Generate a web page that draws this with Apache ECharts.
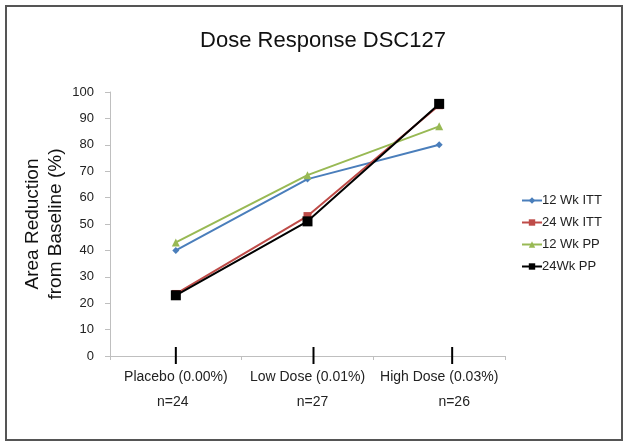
<!DOCTYPE html>
<html><head><meta charset="utf-8">
<script src="https://cdn.jsdelivr.net/npm/echarts@6/dist/echarts.min.js"></script>
<style>html,body{margin:0;padding:0;background:#fff}#c{width:629px;height:447px}</style>
</head><body><div id="c"></div>
<script>
var categories = ['Placebo (0.00%)', 'Low Dose (0.01%)', 'High Dose (0.03%)'];
var sampleSizes = ['n=24', 'n=27', 'n=26'];
var seriesNames = ['12 Wk ITT', '24 Wk ITT', '12 Wk PP', '24Wk PP'];
var wk12ITT = [40, 67, 80];
var wk24ITT = [23.5, 53, 95];
var wk12PP = [43, 68.5, 87];
var wk24PP = [23, 51, 95.5];
var yTicks = [0, 10, 20, 30, 40, 50, 60, 70, 80, 90, 100];

var FONT = "'Liberation Sans', Arial, sans-serif";
var chart = echarts.init(document.getElementById('c'));
function mk(name, data, color, symbol, size) {
  return {
    name: name, type: 'line', data: data, symbol: symbol, symbolSize: size,
    lineStyle: { color: color, width: 2 }, itemStyle: { color: color },
    emphasis: { disabled: true }, animation: false
  };
}
// horizontal nudges of the "n=" lines: [left padding, right padding]
var nShift = [[0, 6], [10, 0], [30, 0]];
var rich = {};
for (var i = 0; i < 3; i++) {
  rich['a' + i] = { fontFamily: FONT, fontSize: 14, color: '#222', lineHeight: 18 };
  rich['b' + i] = { fontFamily: FONT, fontSize: 14, color: '#222', padding: [14, nShift[i][1], 0, nShift[i][0]], lineHeight: 18 };
}
chart.setOption({
  animation: false,
  title: { text: 'Dose Response DSC127', left: 318, textAlign: 'center', top: 25, textStyle: { fontFamily: FONT, fontSize: 22, fontWeight: 'normal', color: '#111' } },
  legend: {
    orient: 'vertical', left: 516, top: 189, itemGap: 9, itemWidth: 20, itemHeight: 8,
    data: seriesNames,
    textStyle: { fontFamily: FONT, fontSize: 13, color: '#222', padding: [0, 0, 0, -5] }
  },
  grid: { left: 110, right: 124, top: 92, bottom: 91 },
  xAxis: {
    type: 'category', data: categories, boundaryGap: true,
    axisLine: { lineStyle: { color: '#BFBFBF', width: 1 } },
    axisTick: { show: true, length: 4, lineStyle: { color: '#BFBFBF' } },
    axisLabel: {
      margin: 12, interval: 0, hideOverlap: false,
      formatter: function (v, idx) { return '{a' + idx + '|' + v + '}\n{b' + idx + '|' + sampleSizes[idx] + '}'; },
      rich: rich
    }
  },
  yAxis: {
    type: 'value', min: yTicks[0], max: yTicks[yTicks.length - 1], interval: 10,
    name: 'Area Reduction\nfrom Baseline (%)', nameLocation: 'middle', nameRotate: 90, nameGap: 43,
    nameMoveOverlap: false,
    nameTextStyle: { fontFamily: FONT, fontSize: 19, color: '#111', lineHeight: 23 },
    axisLine: { show: true, lineStyle: { color: '#BFBFBF' } },
    axisTick: { show: true, length: 5, lineStyle: { color: '#BFBFBF' } },
    splitLine: { show: false },
    axisLabel: { fontFamily: FONT, fontSize: 13, color: '#222', margin: 16 }
  },
  series: [
    mk(seriesNames[0], wk12ITT, '#4A7EBB', 'diamond', 7),
    mk(seriesNames[1], wk24ITT, '#BE4B48', 'rect', 8),
    mk(seriesNames[2], wk12PP, '#98B954', 'triangle', 8),
    mk(seriesNames[3], wk24PP, '#000000', 'rect', 10)
  ]
});
// decorative black tick marks under each category and chart border
var tickOffsets = [0, 6, 13];
var g = [];
var y0 = chart.convertToPixel({ yAxisIndex: 0 }, 0);
for (var k = 0; k < categories.length; k++) {
  var x = chart.convertToPixel({ xAxisIndex: 0 }, categories[k]) + tickOffsets[k];
  g.push({ type: 'line', shape: { x1: x, y1: y0 - 9, x2: x, y2: y0 + 8 }, style: { stroke: '#000', lineWidth: 2 }, z: 10 });
}
g.push({ type: 'rect', shape: { x: 6, y: 6, width: 616, height: 434 }, style: { fill: 'none', stroke: '#555', lineWidth: 2 }, z: 0 });
chart.setOption({ graphic: g });
</script></body></html>
